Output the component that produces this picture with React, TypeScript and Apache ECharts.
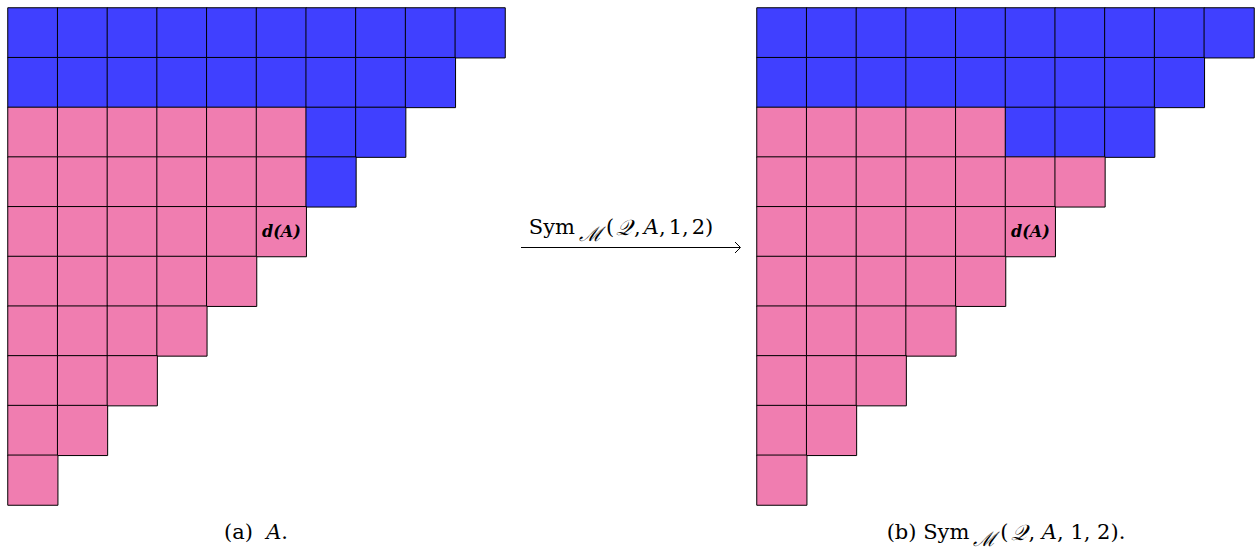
import React, { useEffect, useRef } from "react";
import * as echarts from "echarts";

// Row lengths of the staircase (top row first)
const rowLengths = [10, 9, 8, 7, 6, 5, 4, 3, 2, 1];
// Number of pink cells at the start of each row (the rest are blue)
const leftPinkCounts = [0, 0, 6, 6, 6, 5, 4, 3, 2, 1];
const rightPinkCounts = [0, 0, 5, 7, 6, 5, 4, 3, 2, 1];
// Cell that carries the label d(A): [column, row]
const labelCell = [5, 4];
const labelText = "d(A)";
const cols = ["0", "1", "2", "3", "4", "5", "6", "7", "8", "9"];

const PINK = "#F07DB0";
const BLUE = "#4040FF";
const FAM = "'DejaVu Serif', serif";

function buildData(pinkCounts: number[]) {
  const out: any[] = [];
  rowLengths.forEach((len, r) => {
    for (let c = 0; c < len; c++) {
      const v = c < pinkCounts[r] ? 0 : 1;
      const item: any = { value: [c, r, v] };
      if (c === labelCell[0] && r === labelCell[1]) {
        item.label = {
          show: true,
          formatter: labelText,
          fontFamily: "DejaVu Serif",
          fontStyle: "italic",
          fontWeight: "bold",
          fontSize: 16,
          color: "#000",
        };
      }
      out.push(item);
    }
  });
  return out;
}

export default function App() {
  const ref = useRef<HTMLDivElement>(null);
  useEffect(() => {
    if (!ref.current) return;
    const chart = echarts.init(ref.current, null, { renderer: "svg" });
    const axisX = (gi: number) => ({
      type: "category",
      data: cols,
      gridIndex: gi,
      show: false,
    });
    const axisY = (gi: number) => ({
      type: "category",
      data: cols,
      gridIndex: gi,
      inverse: true,
      show: false,
    });
    const series = (gi: number, data: any[]) => ({
      type: "heatmap",
      xAxisIndex: gi,
      yAxisIndex: gi,
      data,
      itemStyle: { borderColor: "#000", borderWidth: 1 },
      label: { show: false },
      emphasis: { disabled: true },
    });
    const rich = {
      r: { font: `21px ${FAM}`, fill: "#000" },
      c: { font: `21px ${FAM}`, fill: "#000", padding: [0, 3, 0, 0] },
      q: { font: `italic 22px ${FAM}`, fill: "#000", padding: [0, 2, 0, 2] },
      i: { font: `italic 21px ${FAM}`, fill: "#000" },
      s: { font: `italic 20px ${FAM}`, fill: "#000", padding: [14, 4, 0, 4] },
    };
    chart.setOption({
      animation: false,
      grid: [
        { left: 8, top: 8, width: 497, height: 497 },
        { left: 757, top: 8, width: 497, height: 497 },
      ],
      xAxis: [axisX(0), axisX(1)],
      yAxis: [axisY(0), axisY(1)],
      visualMap: {
        type: "piecewise",
        show: false,
        dimension: 2,
        seriesIndex: [0, 1],
        pieces: [
          { value: 0, color: PINK },
          { value: 1, color: BLUE },
        ],
      },
      series: [series(0, buildData(leftPinkCounts)), series(1, buildData(rightPinkCounts))],
      graphic: [
        { type: "line", shape: { x1: 521, y1: 247.5, x2: 740, y2: 247.5 }, style: { stroke: "#000", lineWidth: 1 } },
        { type: "polyline", shape: { points: [[735, 242], [740.5, 247.5], [735, 253]] }, style: { stroke: "#000", lineWidth: 1, fill: null } },
        {
          type: "text",
          x: 621,
          y: 227,
          style: {
            text: "{r|Sym}{s|ℳ}{r|(}{q|𝒬}{c|,}{i|A}{c|,}{r|1}{c|,}{r|2)}",
            rich,
            align: "center",
            verticalAlign: "middle",
          },
        },
        {
          type: "text",
          x: 256,
          y: 532,
          style: {
            text: "{r|(a)  }{i|A}{r|.}",
            rich,
            align: "center",
            verticalAlign: "middle",
          },
        },
        {
          type: "text",
          x: 1006,
          y: 532,
          style: {
            text: "{r|(b) Sym}{s|ℳ}{r|(}{q|𝒬}{r|, }{i|A}{r|, 1, 2).}",
            rich,
            align: "center",
            verticalAlign: "middle",
          },
        },
      ],
    });
    return () => chart.dispose();
  }, []);
  return (
    <div
      ref={ref}
      style={{ position: "absolute", left: 0, top: 0, width: 1255, height: 558, background: "#fff" }}
    />
  );
}
